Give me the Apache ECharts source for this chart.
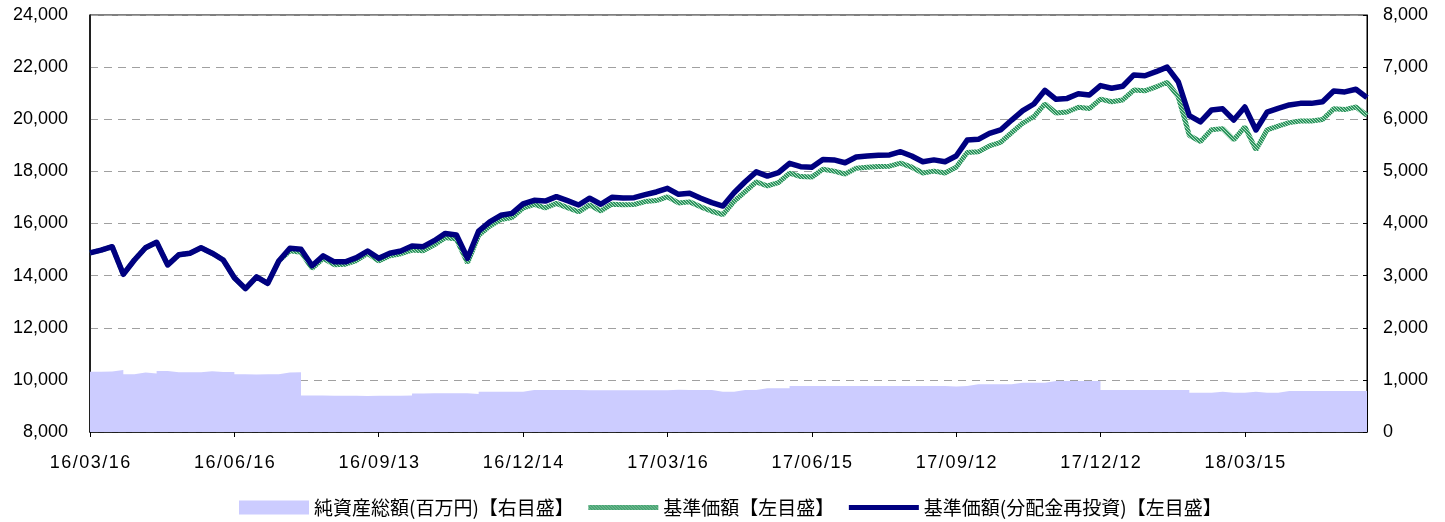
<!DOCTYPE html>
<html>
<head>
<meta charset="utf-8">
<script src="https://cdn.jsdelivr.net/npm/echarts@6/dist/echarts.min.js"></script>
<style>
  html, body { margin: 0; padding: 0; background: #fff; }
  #chart { width: 1445px; height: 522px; }
</style>
</head>
<body>
<div id="chart"></div>
<script>
// tick labels shown every 13 weekly points
const tickLabels = ['16/03/16', '16/06/16', '16/09/13', '16/12/14', '17/03/16', '17/06/15', '17/09/12', '17/12/12', '18/03/15']

// 基準価額(分配金再投資), weekly, left axis
const navReinvest = [
    14870, 14980, 15110, 14050, 14600, 15070, 15280, 14410, 14800, 14860,
    15070, 14860, 14600, 13920, 13500, 13950, 13700, 14560, 15050, 15010,
    14380, 14760, 14530, 14530, 14690, 14945, 14665, 14860, 14945, 15140,
    15110, 15340, 15620, 15560, 14665, 15710, 16060, 16315, 16390, 16750,
    16890, 16860, 17030, 16875, 16710, 16970, 16740, 17005, 16980, 16990,
    17105, 17210, 17350, 17120, 17160, 16970, 16800, 16670, 17180, 17600,
    17980, 17820, 17950, 18310, 18180, 18160, 18460, 18440, 18330, 18550,
    18590, 18620, 18630, 18755, 18590, 18370, 18440, 18370, 18590, 19200,
    19230, 19460, 19590, 19970, 20330, 20585, 21110, 20765, 20800, 20980,
    20930, 21290, 21190, 21265, 21700, 21670, 21825, 22000, 21440, 20140,
    19900, 20355, 20400, 19970, 20470, 19590, 20270, 20420, 20550, 20610,
    20610, 20670, 21080, 21050, 21150, 20830
]

// 基準価額, weekly, left axis
const nav = [
    14870, 14980, 15110, 14050, 14600, 15070, 15280, 14410, 14800, 14860,
    15070, 14860, 14600, 13920, 13500, 13950, 13700, 14560, 14950, 14900,
    14280, 14660, 14420, 14440, 14580, 14850, 14560, 14760, 14840, 14980,
    14950, 15180, 15460, 15400, 14490, 15550, 15900, 16150, 16230, 16590,
    16730, 16600, 16770, 16610, 16450, 16710, 16480, 16740, 16720, 16730,
    16840, 16880, 17020, 16790, 16830, 16640, 16470, 16340, 16850, 17220,
    17600, 17440, 17570, 17930, 17800, 17780, 18080, 18010, 17900, 18120,
    18160, 18190, 18200, 18320, 18160, 17940, 18010, 17940, 18160, 18720,
    18750, 18980, 19110, 19490, 19850, 20100, 20590, 20240, 20280, 20460,
    20410, 20770, 20670, 20740, 21120, 21090, 21240, 21420, 20860, 19380,
    19140, 19600, 19640, 19210, 19710, 18830, 19590, 19740, 19870, 19930,
    19930, 19990, 20400, 20370, 20470, 20150
]

// 純資産総額(百万円), weekly, right axis
const netAssets = [
    1157, 1160, 1190, 1108, 1140, 1120, 1170, 1145, 1145, 1145,
    1165, 1150, 1150, 1110, 1105, 1110, 1110, 1140, 1145, 700,
    700, 697, 697, 695, 690, 697, 697, 697, 700, 740,
    742, 742, 742, 742, 730, 770, 773, 773, 773, 805,
    805, 805, 805, 805, 800, 800, 800, 800, 800, 800,
    800, 800, 810, 805, 805, 805, 773, 773, 805, 805,
    838, 838, 838, 882, 882, 882, 882, 882, 882, 882,
    882, 882, 882, 882, 882, 882, 882, 875, 882, 915,
    915, 915, 915, 946, 946, 946, 978, 978, 978, 978,
    978, 805, 805, 805, 805, 805, 805, 805, 805, 754,
    754, 774, 754, 754, 774, 754, 754, 786, 786, 786,
    786, 786, 786, 786, 786, 786
]

const seriesNames = ['純資産総額(百万円)【右目盛】', '基準価額【左目盛】', '基準価額(分配金再投資)【左目盛】']

const weeks = navReinvest.map((v, i) => String(i))

// speckled green texture for the 基準価額 line
const tile = document.createElement('canvas')
tile.width = 3
tile.height = 3
const tctx = tile.getContext('2d')
tctx.fillStyle = '#a9dcbd'
tctx.fillRect(0, 0, 3, 3)
tctx.fillStyle = '#2f9560'
tctx.fillRect(0, 0, 2, 1)
tctx.fillRect(1, 1, 2, 1)
tctx.fillRect(0, 2, 1, 1)
tctx.fillRect(2, 2, 1, 1)
const greenTexture = { image: tile, repeat: 'repeat' }

const fmt = v => v.toLocaleString('en-US')

// the date labels are set loosely in the original
const spaced = s => s.split('').join('\u200A')

const chart = echarts.init(document.getElementById('chart'))
chart.setOption({
    animation: false,
    textStyle: { fontFamily: 'Liberation Sans, Arial, sans-serif' },
    grid: {
        left: 90,
        right: 78,
        top: 15,
        bottom: 90,
        show: true,
        borderColor: '#000',
        borderWidth: 1
    },
    legend: {
        bottom: 0,
        left: 234,
        itemWidth: 70,
        itemHeight: 14,
        itemGap: 12,
        textStyle: { fontFamily: 'Noto Sans CJK JP', fontSize: 19, color: '#000' },
        data: [
            { name: seriesNames[0], icon: 'rect', itemStyle: { color: '#ccccff' } },
            { name: seriesNames[1], itemStyle: { opacity: 0 }, lineStyle: { width: 5, color: greenTexture } },
            { name: seriesNames[2], itemStyle: { opacity: 0 }, lineStyle: { width: 5, color: '#000080' } }
        ]
    },
    xAxis: {
        type: 'category',
        boundaryGap: false,
        data: weeks,
        axisLine: { lineStyle: { color: '#000', width: 1.5 } },
        axisTick: { interval: 12, length: 5, lineStyle: { color: '#000' } },
        axisLabel: {
            interval: 12,
            margin: 22,
            fontSize: 18,
            color: '#000',
            formatter: (v, i) => tickLabels[i / 13] ? spaced(tickLabels[i / 13]) : ''
        },
        splitLine: { show: false }
    },
    yAxis: [
        {
            type: 'value',
            min: 8000,
            max: 24000,
            interval: 2000,
            axisLine: { show: true, lineStyle: { color: '#000', width: 1.5 } },
            axisTick: { show: false },
            axisLabel: { fontSize: 18, color: '#000', margin: 22, formatter: fmt },
            splitLine: { lineStyle: { color: '#a0a0a0', type: [8, 6] } }
        },
        {
            type: 'value',
            min: 0,
            max: 8000,
            interval: 1000,
            axisLine: { show: true, lineStyle: { color: '#000', width: 1 } },
            axisTick: { show: true, inside: true, length: 4, lineStyle: { color: '#000' } },
            axisLabel: { fontSize: 18, color: '#000', margin: 16, formatter: fmt },
            splitLine: { show: false }
        }
    ],
    series: [
        {
            name: seriesNames[0],
            type: 'line',
            yAxisIndex: 1,
            step: 'end',
            symbol: 'none',
            data: netAssets,
            lineStyle: { width: 0, color: '#ccccff' },
            itemStyle: { color: '#ccccff' },
            areaStyle: { color: '#ccccff', opacity: 1 },
            z: 1
        },
        {
            name: seriesNames[1],
            type: 'line',
            yAxisIndex: 0,
            symbol: 'none',
            data: nav,
            itemStyle: { color: '#3a9d68' },
            lineStyle: { width: 5, color: greenTexture },
            z: 2
        },
        {
            name: seriesNames[2],
            type: 'line',
            yAxisIndex: 0,
            symbol: 'none',
            data: navReinvest,
            itemStyle: { color: '#000080' },
            lineStyle: { width: 5.5, color: '#000080', join: 'round' },
            z: 3
        }
    ]
})
</script>
</body>
</html>
